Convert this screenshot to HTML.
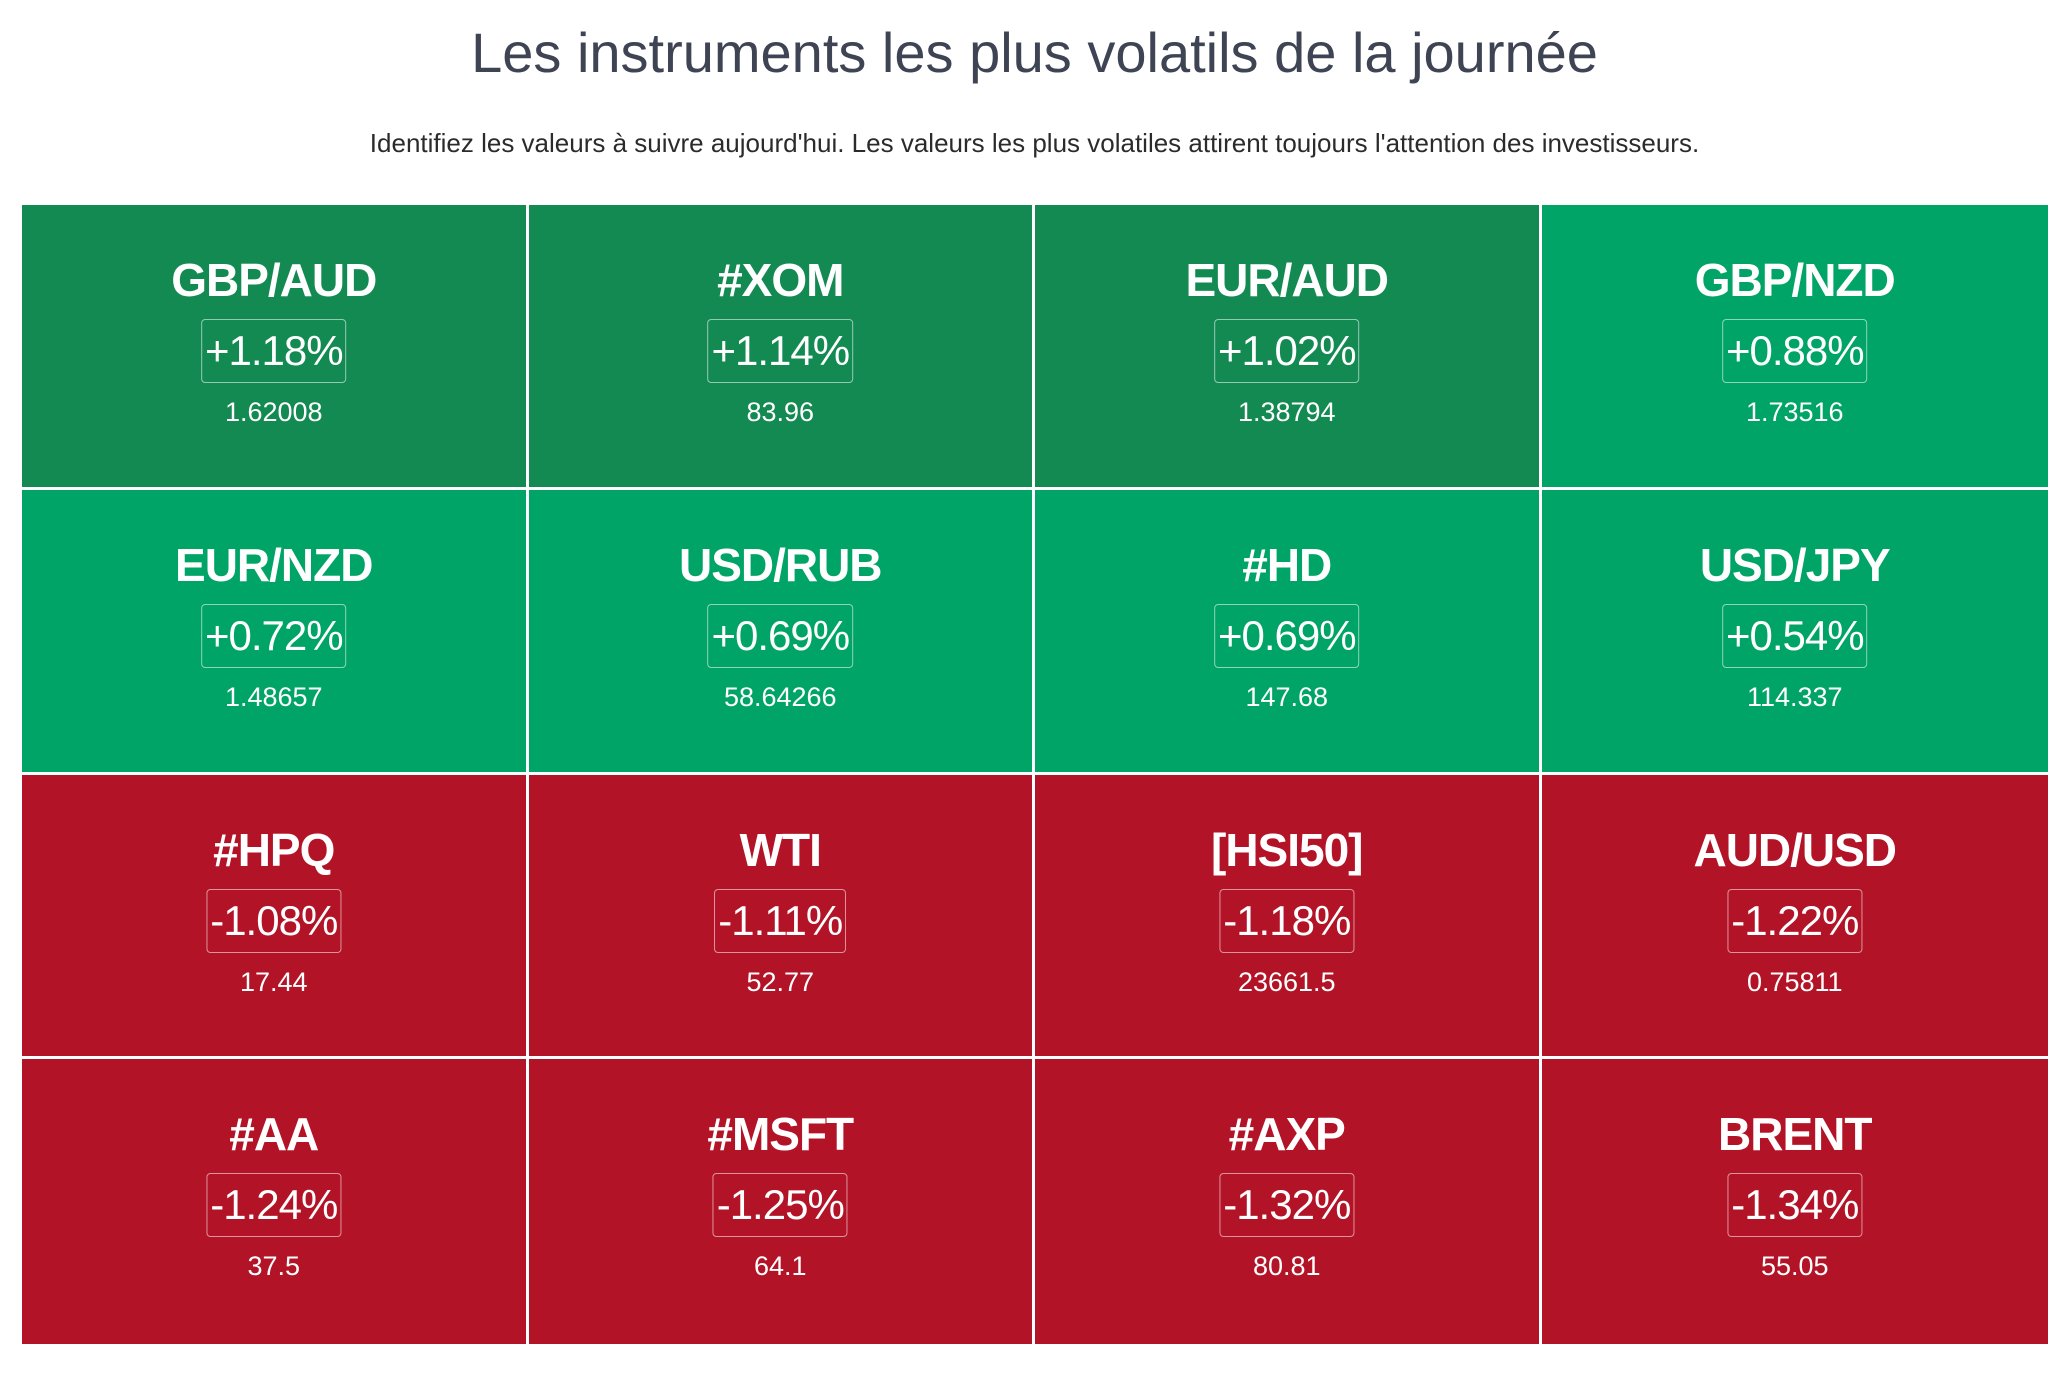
<!DOCTYPE html>
<html><head><meta charset="utf-8">
<style>
html,body{margin:0;padding:0;background:#fff;}
body{width:2069px;height:1377px;position:relative;overflow:hidden;font-family:"Liberation Sans",sans-serif;}
#title{position:absolute;left:0;width:2069px;top:18px;text-align:center;font-size:56px;color:#3e4453;line-height:70px;}
#sub{position:absolute;left:0;width:2069px;top:126px;text-align:center;font-size:26px;color:#2b2b2b;line-height:34px;}
.cell{position:absolute;color:#fff;text-align:center;}
.name{position:absolute;left:0;right:0;top:48px;font-size:46px;font-weight:bold;line-height:54px;letter-spacing:-1px;}
.badge{position:absolute;top:114px;left:50%;transform:translateX(-50%);height:62px;padding:0 3px;border:1.5px solid rgba(255,255,255,0.55);border-radius:4px;font-size:42px;line-height:62px;letter-spacing:-1px;}
.price{position:absolute;left:0;right:0;top:190px;font-size:27px;line-height:34px;}
</style></head><body>
<div id="title">Les instruments les plus volatils de la journée</div>
<div id="sub">Identifiez les valeurs à suivre aujourd'hui. Les valeurs les plus volatiles attirent toujours l'attention des investisseurs.</div>
<div id="grid"></div>
<script>
const names=["GBP/AUD","#XOM","EUR/AUD","GBP/NZD","EUR/NZD","USD/RUB","#HD","USD/JPY","#HPQ","WTI","[HSI50]","AUD/USD","#AA","#MSFT","#AXP","BRENT"];
const changes=[1.18,1.14,1.02,0.88,0.72,0.69,0.69,0.54,-1.08,-1.11,-1.18,-1.22,-1.24,-1.25,-1.32,-1.34];
const prices=["1.62008","83.96","1.38794","1.73516","1.48657","58.64266","147.68","114.337","17.44","52.77","23661.5","0.75811","37.5","64.1","80.81","55.05"];
const grid=document.getElementById('grid');
const X0=22,Y0=205,W=2048-22,H=1344-205,cols=4,rows=4,gap=3;
const cw=W/cols,ch=H/rows;
function color(v){return v>=1?'#138a52':(v>0?'#00a466':'#b31326');}
names.forEach((n,i)=>{
  const c=i%cols,r=Math.floor(i/cols);
  const d=document.createElement('div');
  d.className='cell';
  
  
  d.style.left=(X0+c*cw)+'px';
  d.style.top=(Y0+r*ch)+'px';
  d.style.width=(cw-(c<cols-1?gap:0))+'px';
  d.style.height=(ch-(r<rows-1?gap:0))+'px';
  d.style.background=color(changes[i]);
  const nm=document.createElement('div');nm.className='name';nm.textContent=n;
  
  
  const b=document.createElement('div');b.className='badge';
  b.textContent=(changes[i]>0?'+':'')+changes[i].toFixed(2)+'%';
  
  
  const p=document.createElement('div');p.className='price';p.textContent=prices[i];
  
  
  d.appendChild(nm);d.appendChild(b);d.appendChild(p);
  grid.appendChild(d);
});
</script>
</body></html>
